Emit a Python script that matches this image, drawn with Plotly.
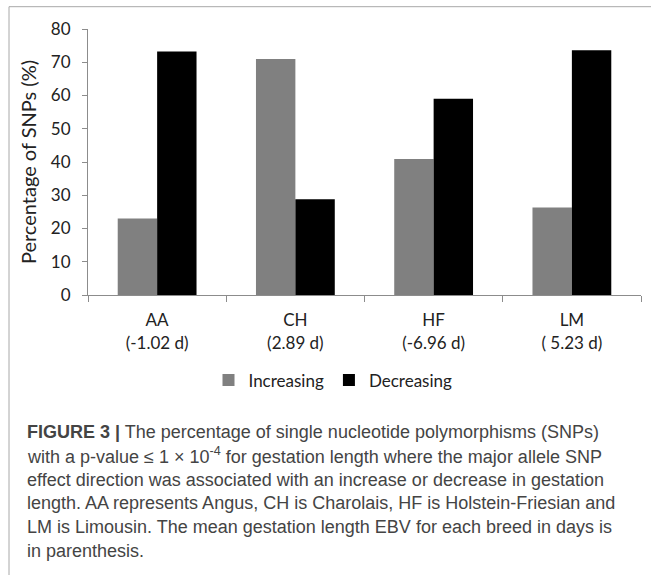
import plotly.graph_objects as go

breeds = ["AA", "CH", "HF", "LM"]
ebv_labels = ["(-1.02 d)", "(2.89 d)", "(-6.96 d)", "( 5.23 d)"]
increasing = [23.0, 71.0, 40.9, 26.3]
decreasing = [73.2, 28.8, 59.0, 73.6]
series_names = ["Increasing", "Decreasing"]
y_ticks = [0, 10, 20, 30, 40, 50, 60, 70, 80]

caption_lines = [
    "<b>FIGURE 3 |</b> The percentage of single nucleotide polymorphisms (SNPs)",
    "with a p-value ≤ 1 × 10<sup>-4</sup> for gestation length where the major allele SNP",
    "effect direction was associated with an increase or decrease in gestation",
    "length. AA represents Angus, CH is Charolais, HF is Holstein-Friesian and",
    "LM is Limousin. The mean gestation length EBV for each breed in days is",
    "in parenthesis.",
]

W, H = 651, 575
ML, MR, MT, MB = 88, 10, 29, 280
PW, PH = W - ML - MR, H - MT - MB


def px_x(px):
    return (px - ML) / PW


def px_y(py):
    return 1 - (py - MT) / PH


cats = [f"{b}<br>{e}" for b, e in zip(breeds, ebv_labels)]

fig = go.Figure()
fig.add_trace(go.Bar(x=cats, y=increasing, name=series_names[0],
                     marker=dict(color="#808080", line=dict(width=0))))
fig.add_trace(go.Bar(x=cats, y=decreasing, name=series_names[1],
                     marker=dict(color="#000000", line=dict(width=0))))

axis_col = "#8c8c8c"
txt_col = "#222222"
fig.update_layout(
    width=W, height=H,
    margin=dict(l=ML, r=MR, t=MT, b=MB),
    paper_bgcolor="white", plot_bgcolor="white",
    barmode="group", bargap=0.43, bargroupgap=0,
    font=dict(family="Lato", size=17, color=txt_col),
    showlegend=True,
    legend=dict(orientation="h", x=px_x(333), xanchor="center",
                y=px_y(380.5), yanchor="middle",
                font=dict(family="Lato", size=17, color=txt_col),
                itemwidth=30, tracegroupgap=0, bgcolor="rgba(0,0,0,0)"),
    xaxis=dict(type="category", tickson="boundaries", ticks="outside",
               ticklen=6, tickcolor=axis_col, showline=True, linecolor=axis_col,
               linewidth=1, showgrid=False, zeroline=False,
               tickfont=dict(family="Lato", size=17, color=txt_col),
               ticklabelstandoff=10),
    yaxis=dict(range=[0, 80], tickvals=y_ticks, ticks="outside", ticklen=5,
               tickcolor=axis_col, showline=True, linecolor=axis_col,
               linewidth=1, showgrid=False, zeroline=False,
               tickfont=dict(family="Lato", size=17, color=txt_col),
               ticklabelstandoff=8,
               title=dict(text="Percentage of SNPs (%)",
                          font=dict(family="Lato", size=20, color=txt_col),
                          standoff=8)),
)

# frame around the figure
fig.add_shape(type="line", xref="paper", yref="paper",
              x0=px_x(9), x1=px_x(651), y0=px_y(6.7), y1=px_y(6.7),
              line=dict(color="#a8a8a8", width=1))
fig.add_shape(type="line", xref="paper", yref="paper",
              x0=px_x(9), x1=px_x(9), y0=px_y(6.7), y1=px_y(575),
              line=dict(color="#a8a8a8", width=1))

for i, line in enumerate(caption_lines):
    fig.add_annotation(text=line, xref="paper", yref="paper",
                       x=px_x(25), y=px_y(432 + 23.8 * i),
                       xanchor="left", yanchor="middle", showarrow=False,
                       font=dict(family="Liberation Sans", size=18, color="#444444"))

fig.write_html("out.html", config={"displayModeBar": False},
               post_script="document.body.style.margin='0';document.body.style.overflow='hidden';")
